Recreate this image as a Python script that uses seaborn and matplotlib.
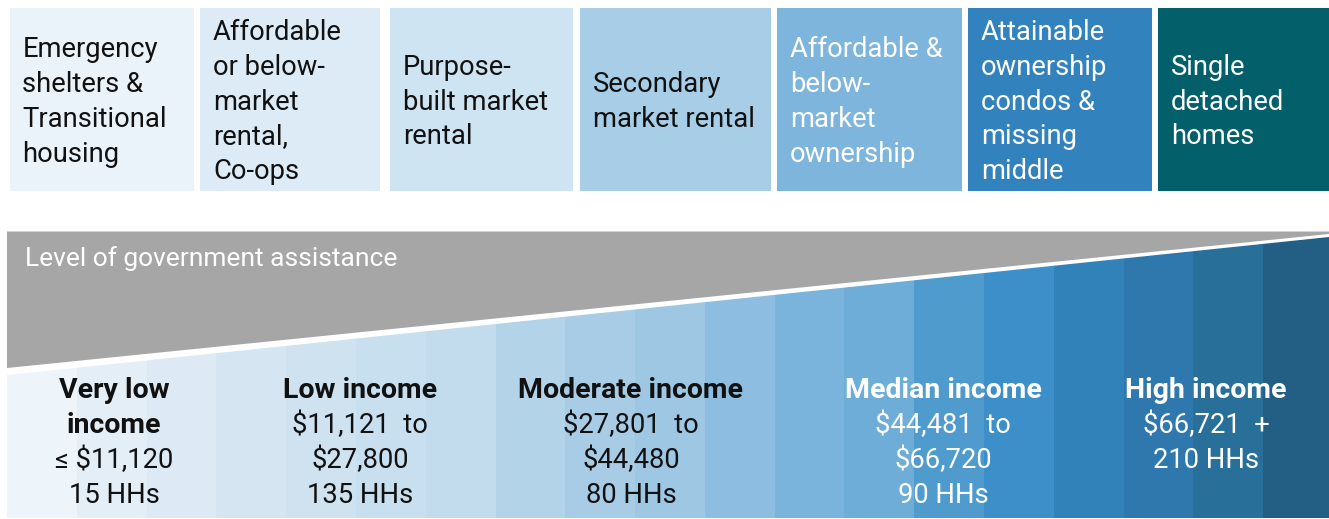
import matplotlib
matplotlib.use("Agg")
import matplotlib.pyplot as plt
import seaborn as sns
from matplotlib.patches import Rectangle, Polygon

# ---------------- data ----------------
housing_types = [
    ["Emergency", "shelters &", "Transitional", "housing"],
    ["Affordable", "or below-", "market", "rental,", "Co-ops"],
    ["Purpose-", "built market", "rental"],
    ["Secondary", "market rental"],
    ["Affordable &", "below-", "market", "ownership"],
    ["Attainable", "ownership", "condos &", "missing", "middle"],
    ["Single", "detached", "homes"],
]
housing_colors = ["#EAF3FA", "#DCEBF6", "#CFE4F2", "#A7CDE7", "#7DB5DC", "#3282BD", "#03606A"]
housing_text_colors = ["#111111"] * 4 + ["white"] * 3

income_titles = [["Very low", "income"], ["Low income"], ["Moderate income"],
                 ["Median income"], ["High income"]]
income_ranges = [["≤ $11,120"], ["$11,121  to", "$27,800"], ["$27,801  to", "$44,480"],
                 ["$44,481  to", "$66,720"], ["$66,721  +"]]
income_households = ["15 HHs", "135 HHs", "80 HHs", "90 HHs", "210 HHs"]
income_text_colors = ["#111111", "#111111", "#111111", "white", "white"]

band_colors = ["#EDF4FA", "#E3EEF7", "#DDEAF5", "#D5E6F2", "#CEE2F0", "#C8DFEF",
               "#C2DCEE", "#B3D3E9", "#A8CCE6", "#9EC7E4", "#8DBDE0", "#7AB3DB",
               "#6DADD8", "#4F9BCE", "#3D8FC9", "#3282BA", "#2E78AD", "#286F9A",
               "#235E84"]
band_ids = [f"b{i}" for i in range(len(band_colors))]
band_heights = [1] * len(band_colors)

assist_label = "Level of government assistance"

# ---------------- layout ----------------
W, H = 1329, 519
sns.set_theme(style="white")
plt.rcParams["font.family"] = ["Roboto", "DejaVu Sans"]

fig = plt.figure(figsize=(W / 100, H / 100), dpi=100)
fig.patch.set_facecolor("white")

# gradient strip (bands) via seaborn barplot
strip_left, strip_right, strip_top, strip_bottom = 7, 1329, 231.5, 518
ax_band = fig.add_axes([strip_left / W, (H - strip_bottom) / H,
                        (strip_right - strip_left) / W, (strip_bottom - strip_top) / H])
sns.barplot(x=band_ids, y=band_heights, hue=band_ids,
            palette=dict(zip(band_ids, band_colors)), width=1.0, saturation=1,
            linewidth=0, legend=False, ax=ax_band)
ax_band.set_xlim(-0.5, len(band_ids) - 0.5 - 4 / 70)
ax_band.set_ylim(0, 1)
ax_band.axis("off")

# overlay axes in pixel coordinates
ax = fig.add_axes([0, 0, 1, 1], zorder=5)
ax.set_xlim(0, W)
ax.set_ylim(H, 0)
ax.axis("off")
ax.patch.set_alpha(0)

# white gap + grey wedge
ax.add_patch(Polygon([(strip_left, strip_top), (W, strip_top), (W, 237), (strip_left, 375)],
                     closed=True, facecolor="white", edgecolor="none"))
ax.add_patch(Polygon([(strip_left, strip_top), (W, strip_top), (W, 234), (strip_left, 368)],
                     closed=True, facecolor="#A6A6A6", edgecolor="none"))
ax.text(25, 259, assist_label, color="white", fontsize=19, ha="left", va="center")

FS = 19.7
FS_B = 20.5
LS = 34.8

# housing boxes
box_lefts = [9.5, 200, 390, 580, 777, 968, 1158]
box_rights = [194, 380, 573, 771, 962, 1152, 1340]
box_top, box_bot = 7.5, 190.5
for i, (lines, fc, tc) in enumerate(zip(housing_types, housing_colors, housing_text_colors)):
    x0, x1 = box_lefts[i], box_rights[i]
    ax.add_patch(Rectangle((x0, box_top), x1 - x0, box_bot - box_top, facecolor=fc, edgecolor="none"))
    yc = (box_top + box_bot) / 2 + 3
    n = len(lines)
    for k, line in enumerate(lines):
        ax.text(x0 + 13, yc + (k - (n - 1) / 2) * LS, line, color=tc, fontsize=FS,
                ha="left", va="center")

# income labels
label_x_px = [114, 360, 631, 943, 1206]
for xc, titles, ranges, hh, tc in zip(label_x_px, income_titles, income_ranges,
                                       income_households, income_text_colors):
    y = 391
    for t in titles:
        ax.text(xc, y, t, color=tc, fontsize=FS_B, fontweight="bold", ha="center", va="center")
        y += LS
    for r in ranges:
        ax.text(xc, y, r, color=tc, fontsize=FS, ha="center", va="center")
        y += LS
    ax.text(xc, y, hh, color=tc, fontsize=FS, ha="center", va="center")

fig.savefig("out.png", dpi=100, facecolor="white")
